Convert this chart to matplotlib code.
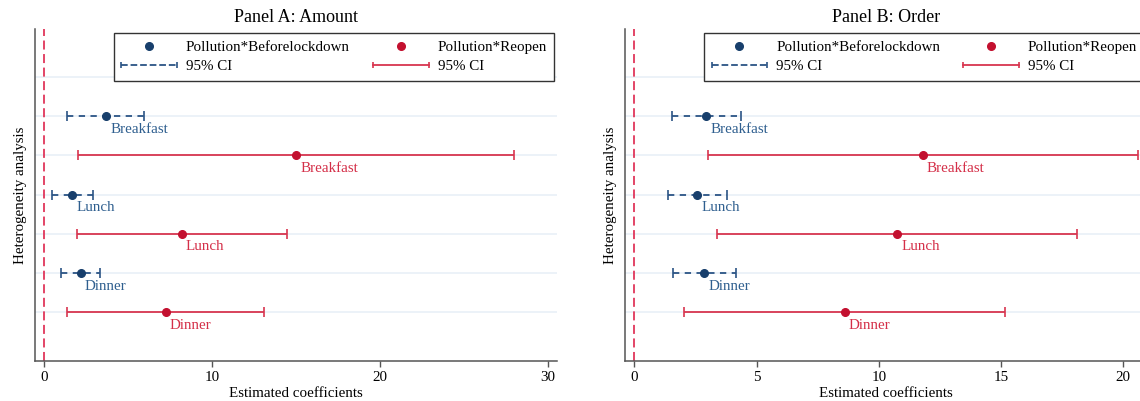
import matplotlib
matplotlib.use("Agg")
import matplotlib.pyplot as plt
from matplotlib.lines import Line2D
from matplotlib.legend_handler import HandlerBase
import numpy as np

plt.rcParams['font.family'] = ['Liberation Serif', 'DejaVu Serif']

meals = ['Breakfast', 'Lunch', 'Dinner']

# Panel A: Amount
a_before_coef = [3.70, 1.67, 2.17]
a_before_lo = [1.38, 0.44, 0.98]
a_before_hi = [5.93, 2.93, 3.34]
a_reopen_coef = [15.03, 8.19, 7.23]
a_reopen_lo = [2.00, 1.93, 1.37]
a_reopen_hi = [28.00, 14.46, 13.07]

# Panel B: Order
b_before_coef = [2.95, 2.56, 2.85]
b_before_lo = [1.54, 1.37, 1.59]
b_before_hi = [4.35, 3.79, 4.14]
b_reopen_coef = [11.79, 10.76, 8.60]
b_reopen_lo = [3.00, 3.38, 2.04]
b_reopen_hi = [20.60, 18.10, 15.16]

a_ticks = [0, 10, 20, 30]
b_ticks = [0, 5, 10, 15, 20]

blue_line = '#2b5485'
blue_dot = '#183f6c'
blue_txt = '#2f5f8f'
red_line = '#d8354f'
red_dot = '#c3102f'
red_txt = '#d42f48'
grid_col = '#e9f0f7'


class CIHandler(HandlerBase):
    def create_artists(self, legend, orig, xdescent, ydescent, width, height, fontsize, trans):
        y = height / 2 - ydescent
        x0, x1 = -xdescent, width - xdescent
        line = Line2D([x0, x1], [y, y], color=orig.get_color(), ls=orig.get_linestyle(),
                      lw=orig.get_linewidth())
        caps = Line2D([x0, x1], [y, y], ls='none', marker='|', ms=5, mew=1.2,
                      color=orig.get_color())
        line.set_transform(trans)
        caps.set_transform(trans)
        return [line, caps]


def panel(ax, title, bc, blo, bhi, rc, rlo, rhi, xlim, ticks):
    n = len(meals)
    before_y = np.array([2 * (n - i) for i in range(n)])
    reopen_y = before_y - 1

    for yy in range(1, 2 * n + 2):
        ax.axhline(yy, color=grid_col, lw=1.2, zorder=0)
    ax.axvline(0, color='#e0365a', lw=1.3, dashes=(5, 2.5), zorder=1)

    bc, blo, bhi = map(np.array, (bc, blo, bhi))
    rc, rlo, rhi = map(np.array, (rc, rlo, rhi))

    eb = ax.errorbar(bc, before_y, xerr=[bc - blo, bhi - bc], fmt='none', ecolor=blue_line,
                     elinewidth=1.3, capsize=3.5, capthick=1.2, zorder=2)
    eb[2][0].set_linestyle((0, (3.5, 3)))
    ax.plot(bc, before_y, 'o', color=blue_dot, ms=5.5, zorder=3)
    ax.errorbar(rc, reopen_y, xerr=[rc - rlo, rhi - rc], fmt='none', ecolor=red_line,
                elinewidth=1.3, capsize=3.5, capthick=1.2, zorder=2)
    ax.plot(rc, reopen_y, 'o', color=red_dot, ms=5.5, zorder=3)

    for i, m in enumerate(meals):
        ax.annotate(m, (bc[i], before_y[i]), xytext=(3, -9.5), textcoords='offset points',
                    ha='left', va='center', color=blue_txt, fontsize=10.8)
        ax.annotate(m, (rc[i], reopen_y[i]), xytext=(3, -9.5), textcoords='offset points',
                    ha='left', va='center', color=red_txt, fontsize=10.8)

    ax.set_xlim(*xlim)
    ax.set_ylim(-0.25, 8.22)
    ax.set_xticks(ticks)
    ax.set_yticks([])
    ax.tick_params(axis='x', length=4.5, width=1, color='#555555', labelsize=10.8, pad=3)
    for s in ['top', 'right']:
        ax.spines[s].set_visible(False)
    for s in ['left', 'bottom']:
        ax.spines[s].set_color('#555555')
        ax.spines[s].set_linewidth(1.1)
    ax.set_xlabel('Estimated coefficients', fontsize=10.8, labelpad=2)
    ax.set_ylabel('Heterogeneity analysis', fontsize=10.8, labelpad=6)
    ax.set_title(title, fontsize=13, pad=5)

    h_bd = Line2D([], [], ls='none', marker='o', color=blue_dot, ms=5.5)
    h_bci = Line2D([], [], color=blue_line, lw=1.3, ls=(0, (3.5, 3)))
    h_rd = Line2D([], [], ls='none', marker='o', color=red_dot, ms=5.5)
    h_rci = Line2D([], [], color=red_line, lw=1.3)
    leg = ax.legend([h_bd, h_bci, h_rd, h_rci],
                    ['Pollution*Beforelockdown', '95% CI', 'Pollution*Reopen', '95% CI'],
                    handler_map={h_bci: CIHandler(), h_rci: CIHandler()},
                    ncol=2, loc='upper left', bbox_to_anchor=(0.151, 0.988),
                    fontsize=10.8, handlelength=3.7, handletextpad=0.6, columnspacing=1.55,
                    labelspacing=0.38, borderpad=0.5, borderaxespad=0, fancybox=False,
                    framealpha=1, edgecolor='#333333')
    leg.get_frame().set_linewidth(1.0)


fig = plt.figure(figsize=(11.4, 4.01), dpi=100)
ax1 = fig.add_axes([0.0307, 0.0998, 0.4576, 0.8272])
ax2 = fig.add_axes([0.5485, 0.0998, 0.4576, 0.8272])

panel(ax1, 'Panel A: Amount', a_before_coef, a_before_lo, a_before_hi,
      a_reopen_coef, a_reopen_lo, a_reopen_hi, (-0.55, 30.54), a_ticks)
panel(ax2, 'Panel B: Order', b_before_coef, b_before_lo, b_before_hi,
      b_reopen_coef, b_reopen_lo, b_reopen_hi, (-0.37, 20.97), b_ticks)

fig.savefig('out.png', dpi=100)
